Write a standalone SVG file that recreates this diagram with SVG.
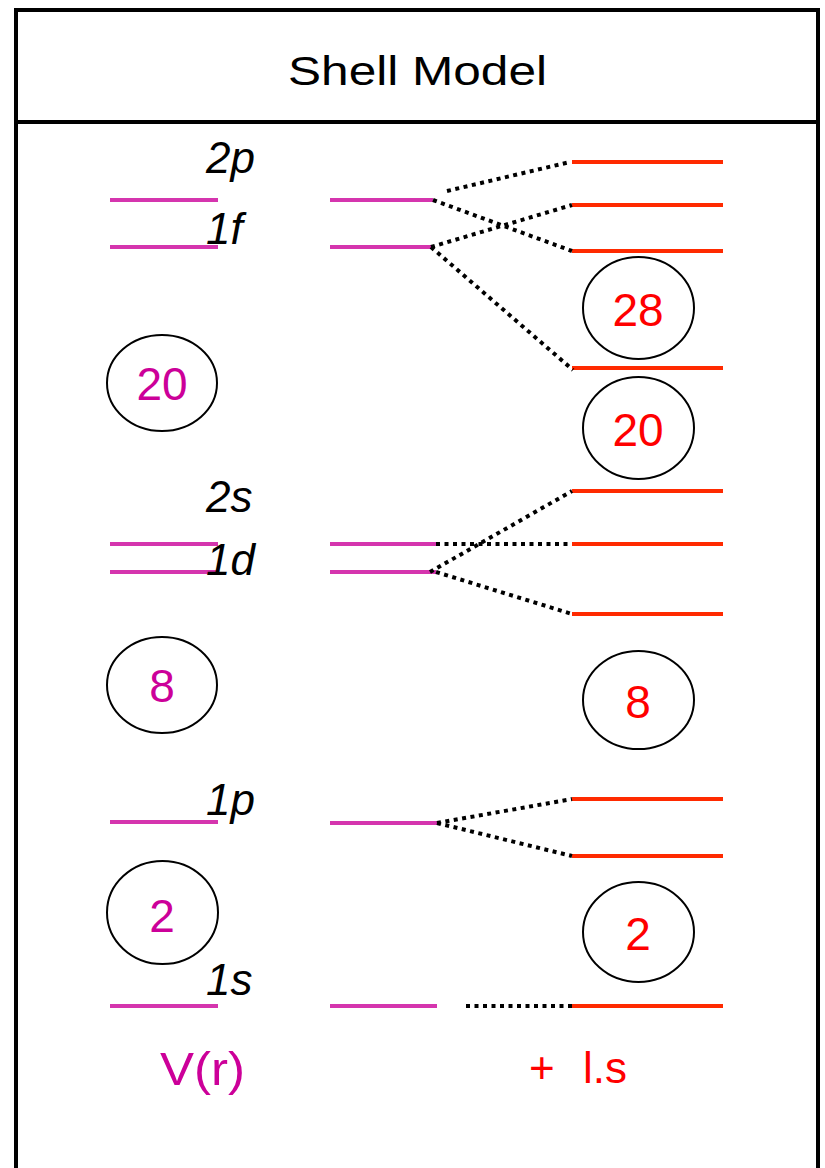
<svg xmlns="http://www.w3.org/2000/svg" width="825" height="1168" viewBox="0 0 825 1168">
<style>
.frame{fill:#fff;stroke:#000;stroke-width:4}
.lv{stroke:#D535AE;stroke-width:4}
.rl{stroke:#FF2A00;stroke-width:4}
.dot{stroke:#000;stroke-width:4;stroke-dasharray:4 4.5;fill:none}
.ring{fill:none;stroke:#000;stroke-width:2}
.title{font-family:"Liberation Sans",sans-serif;font-size:40px;fill:#000}
.orb{font-family:"Liberation Sans",sans-serif;font-style:italic;font-size:44px;fill:#000}
.nm{font-family:"Liberation Sans",sans-serif;font-size:46px;fill:#CC0099;text-anchor:middle}
.nr{font-family:"Liberation Sans",sans-serif;font-size:46px;fill:#FF0000;text-anchor:middle}
</style>
<rect x="0" y="0" width="825" height="1168" fill="#fff"/>
<g id="frame">
<rect class="frame" x="16" y="10" width="802" height="1160"/>
<line x1="16" y1="122" x2="818" y2="122" stroke="#000" stroke-width="4"/>
</g>
<g id="title"><text class="title" x="288" y="85" textLength="259" lengthAdjust="spacingAndGlyphs">Shell Model</text></g>

<g id="left-levels">
<line class="lv" x1="110" y1="200" x2="218" y2="200"/>
<line class="lv" x1="110" y1="247" x2="218" y2="247"/>
<line class="lv" x1="110" y1="544" x2="218" y2="544"/>
<line class="lv" x1="110" y1="572" x2="218" y2="572"/>
<line class="lv" x1="110" y1="822" x2="218" y2="822"/>
<line class="lv" x1="110" y1="1006" x2="218" y2="1006"/>
</g>
<g id="labels">
<text class="orb" x="206" y="173">2p</text>
<text class="orb" x="206" y="244">1f</text>
<text class="orb" x="206" y="512">2s</text>
<text class="orb" x="206" y="575">1d</text>
<text class="orb" x="206" y="815">1p</text>
<text class="orb" x="206" y="995">1s</text>
</g>
<g id="mid-levels">
<line class="lv" x1="330" y1="200" x2="433" y2="200"/>
<line class="lv" x1="330" y1="247" x2="433" y2="247"/>
<line class="lv" x1="330" y1="544" x2="436" y2="544"/>
<line class="lv" x1="330" y1="572" x2="436" y2="572"/>
<line class="lv" x1="330" y1="823" x2="437" y2="823"/>
<line class="lv" x1="330" y1="1006" x2="437" y2="1006"/>
</g>
<g id="right-levels">
<line class="rl" x1="572" y1="162" x2="723" y2="162"/>
<line class="rl" x1="572" y1="205" x2="723" y2="205"/>
<line class="rl" x1="572" y1="251" x2="723" y2="251"/>
<line class="rl" x1="572" y1="368" x2="723" y2="368"/>
<line class="rl" x1="572" y1="491" x2="723" y2="491"/>
<line class="rl" x1="572" y1="544" x2="723" y2="544"/>
<line class="rl" x1="572" y1="614" x2="723" y2="614"/>
<line class="rl" x1="572" y1="799" x2="723" y2="799"/>
<line class="rl" x1="572" y1="856" x2="723" y2="856"/>
<line class="rl" x1="572" y1="1006" x2="723" y2="1006"/>
</g>
<g id="connectors">
<line class="dot" x1="447" y1="191" x2="570" y2="162"/>
<line class="dot" x1="433" y1="200" x2="572" y2="251"/>
<line class="dot" x1="431" y1="247" x2="572" y2="205"/>
<line class="dot" x1="431" y1="247" x2="573" y2="370"/>
<line class="dot" x1="436" y1="544" x2="572" y2="544"/>
<line class="dot" x1="430" y1="572" x2="572" y2="491"/>
<line class="dot" x1="436" y1="572" x2="572" y2="614"/>
<line class="dot" x1="437" y1="823" x2="572" y2="799"/>
<line class="dot" x1="437" y1="823" x2="572" y2="856"/>
<line class="dot" x1="466" y1="1006" x2="572" y2="1006"/>
</g>
<g id="n-left-20"><ellipse class="ring" cx="162" cy="383" rx="55" ry="48"/><text class="nm" x="162" y="400">20</text></g>
<g id="n-left-8"><ellipse class="ring" cx="162" cy="685" rx="55" ry="48"/><text class="nm" x="162" y="702">8</text></g>
<g id="n-left-2"><ellipse class="ring" cx="162.5" cy="912.5" rx="55.5" ry="51.5"/><text class="nm" x="162" y="932">2</text></g>
<g id="n-right-28"><ellipse class="ring" cx="638.5" cy="308" rx="55.5" ry="51"/><text class="nr" x="638" y="326">28</text></g>
<g id="n-right-20"><ellipse class="ring" cx="638.5" cy="428" rx="55.5" ry="51"/><text class="nr" x="638" y="446">20</text></g>
<g id="n-right-8"><ellipse class="ring" cx="638.5" cy="700" rx="55.5" ry="49"/><text class="nr" x="638" y="718">8</text></g>
<g id="n-right-2"><ellipse class="ring" cx="638.5" cy="932" rx="55.5" ry="50"/><text class="nr" x="638" y="950">2</text></g>
<g id="footer">
<text x="160" y="1085" font-family="Liberation Sans, sans-serif" font-size="46" fill="#CC0099" textLength="85" lengthAdjust="spacingAndGlyphs">V(r)</text>
<text font-family="Liberation Sans, sans-serif" font-size="44" fill="#FF0000"><tspan x="529" y="1083">+</tspan><tspan x="583" y="1083">l.s</tspan></text>
</g>
</svg>
